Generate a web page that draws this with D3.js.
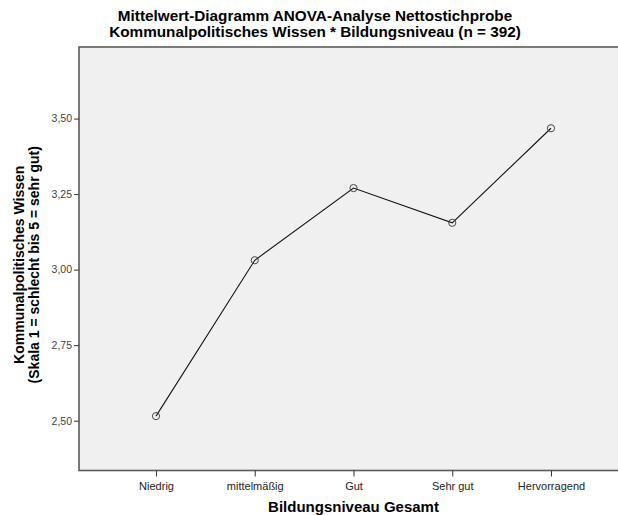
<!DOCTYPE html>
<html><head><meta charset="utf-8">
<script src="https://cdn.jsdelivr.net/npm/d3@7"></script>
<style>body{margin:0;background:#fff;}svg{display:block;font-family:"Liberation Sans",Arial,sans-serif;}</style>
</head><body><svg id="c" width="618" height="515"></svg>
<script>
const categories = ["Niedrig", "mittelmäßig", "Gut", "Sehr gut", "Hervorragend"];
const means = [2.515, 3.031, 3.270, 3.155, 3.468];
const yTicks = [2.50, 2.75, 3.00, 3.25, 3.50];
const titleLines = ["Mittelwert-Diagramm ANOVA-Analyse Nettostichprobe", "Kommunalpolitisches Wissen * Bildungsniveau (n = 392)"];
const yTitleLines = ["Kommunalpolitisches Wissen", "(Skala 1 = schlecht bis 5 = sehr gut)"];
const xTitle = "Bildungsniveau Gesamt";

const svg = d3.select("#c");
const L = 79, R = 628, T = 47, B = 470.5;

const x = d3.scalePoint().domain(categories).range([L, R]).padding(0.78);
const y = d3.scaleLinear().domain([2.335, 3.737]).range([B, T]);

svg.append("rect").attr("x", L).attr("y", T).attr("width", R - L).attr("height", B - T)
  .attr("fill", "#f0f0f0").attr("stroke", "#5a5a5a").attr("stroke-width", 1.6);

const fmt = d => d3.format(".2f")(d).replace(".", ",");
const yAxis = svg.append("g").attr("transform", `translate(${L},0)`)
  .call(d3.axisLeft(y).tickValues(yTicks).tickFormat(fmt).tickSize(5).tickPadding(2));
yAxis.select(".domain").remove();
yAxis.selectAll("line").attr("stroke", "#333");
yAxis.selectAll("text").attr("fill", "#444").style("font-size", "10.5px").style("font-family", "Liberation Sans, Arial, sans-serif");

const xAxis = svg.append("g").attr("transform", `translate(0,${B})`)
  .call(d3.axisBottom(x).tickSize(6).tickPadding(6));
xAxis.select(".domain").remove();
xAxis.selectAll("line").attr("stroke", "#333");
xAxis.selectAll("text").attr("fill", "#222").style("font-size", "11px").style("font-family", "Liberation Sans, Arial, sans-serif");

const line = d3.line().x((d, i) => x(categories[i])).y(d => y(d));
svg.append("path").datum(means).attr("d", line).attr("fill", "none").attr("stroke", "#111").attr("stroke-width", 1.1);

svg.selectAll("circle.m").data(means).join("circle").attr("class", "m")
  .attr("cx", (d, i) => x(categories[i])).attr("cy", d => y(d)).attr("r", 3.6)
  .attr("fill", "none").attr("stroke", "#444").attr("stroke-width", 1);

svg.append("g").selectAll("text").data(titleLines).join("text")
  .attr("x", 315).attr("y", (d, i) => 21 + i * 15.5).attr("text-anchor", "middle")
  .attr("font-weight", "bold").attr("font-size", "15.3px").attr("fill", "#000").text(d => d);

svg.append("g").attr("transform", `translate(0,${(T + B) / 2 + 6}) rotate(-90)`)
  .selectAll("text").data(yTitleLines).join("text")
  .attr("x", 0).attr("y", (d, i) => 24 + i * 15).attr("text-anchor", "middle")
  .attr("font-weight", "bold").attr("font-size", "14px").attr("fill", "#000").text(d => d);

svg.append("text").attr("x", (L + R) / 2).attr("y", 512).attr("text-anchor", "middle")
  .attr("font-weight", "bold").attr("font-size", "15px").attr("fill", "#000").text(xTitle);
</script></body></html>
